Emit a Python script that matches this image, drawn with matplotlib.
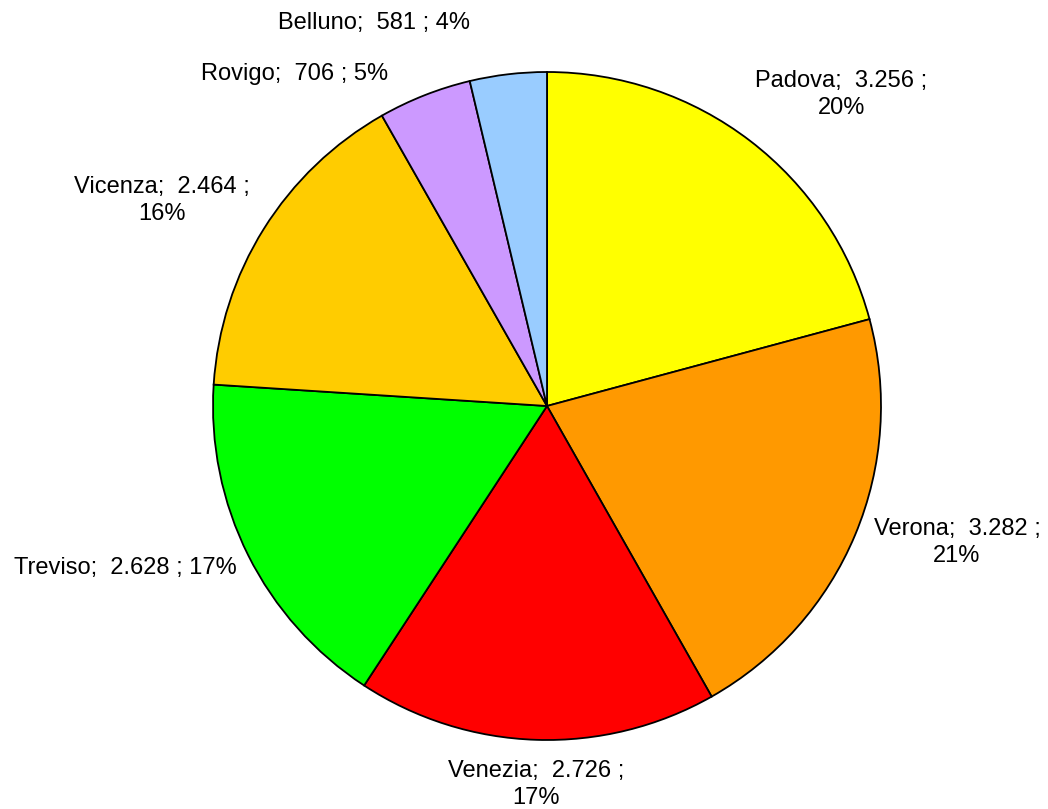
import numpy as np
import matplotlib
matplotlib.use("Agg")
import matplotlib.pyplot as plt

provinces = ["Padova", "Verona", "Venezia", "Treviso", "Vicenza", "Rovigo", "Belluno"]
values = [3256, 3282, 2726, 2628, 2464, 706, 581]
percents = [20, 21, 17, 17, 16, 5, 4]
colors = ["#FFFF00", "#FF9900", "#FF0000", "#00FF00", "#FFCC00", "#CC99FF", "#99CCFF"]
# label text split into lines like the original
label_breaks = [True, True, True, False, True, False, False]

plt.rcParams["font.family"] = ["Liberation Sans", "DejaVu Sans"]

fig = plt.figure(figsize=(10.48, 8.09), dpi=100)
W, H = 1048, 809
cx, cy, r = 547, 406, 334
ax = fig.add_axes([(cx - r) / W, (H - cy - r) / H, 2 * r / W, 2 * r / H])

wedges, _ = ax.pie(values, colors=colors, startangle=90, counterclock=False,
                   radius=1, wedgeprops=dict(edgecolor="black", linewidth=1.3))
ax.set_xlim(-1, 1)
ax.set_ylim(-1, 1)
ax.axis("off")

# label placement: radial distance plus a small nudge (radius units)
label_dist = [1.10, 1.06, 1.06, 1.06, 1.08, 1.08, 1.12]
nudge = [(-0.045, -0.015), (0, 0), (0, 0), (0.02, -0.01),
         (0.025, -0.03), (-0.08, -0.045), (-0.10, 0)]
for w, name, v, p, brk, d, (nx, ny) in zip(wedges, provinces, values, percents,
                                            label_breaks, label_dist, nudge):
    ang = np.deg2rad((w.theta1 + w.theta2) / 2)
    c, s = np.cos(ang), np.sin(ang)
    num = f"{v:,}".replace(",", ".")
    sep = "\n" if brk else " "
    txt = f"{name};  {num} ;{sep}{p}%"
    ha = "left" if c > 0.1 else ("right" if c < -0.1 else "center")
    va = "bottom" if s > 0.5 else ("top" if s < -0.5 else "center")
    if name == "Belluno":
        ha = "right"
    ax.text(d * c + nx, d * s + ny, txt, ha=ha, va=va, multialignment="center",
            fontsize=17, linespacing=1.3, clip_on=False)

fig.savefig("out.png", dpi=100)
